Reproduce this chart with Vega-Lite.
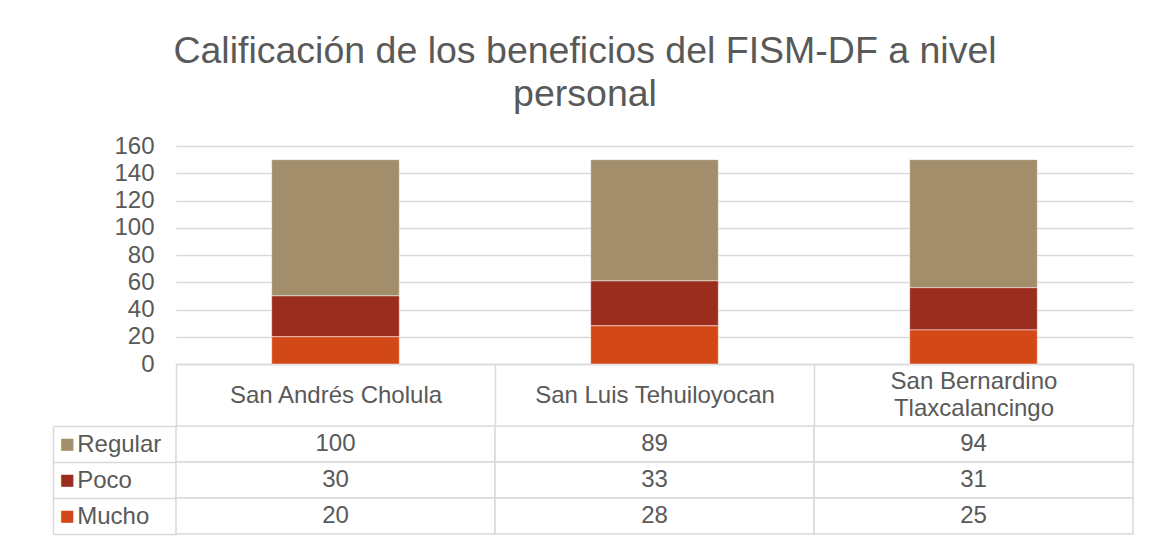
{
  "$schema": "https://vega.github.io/schema/vega-lite/v6.json",
  "padding": {"left": 52, "top": 33, "right": 10, "bottom": 5},
  "background": "white",
  "config": {"view": {"stroke": null}, "font": "Liberation Sans"},
  "title": {
    "text": ["Calificación de los beneficios del FISM-DF a nivel", "personal"],
    "fontSize": 37.5, "fontWeight": "normal", "color": "#595959", "lineHeight": 42.5,
    "anchor": "middle", "dx": -8, "offset": 21
  },
  "datasets": {
    "d": [
      {"municipio": "San Andrés Cholula", "calificacion": "Regular", "valor": 100},
      {"municipio": "San Andrés Cholula", "calificacion": "Poco", "valor": 30},
      {"municipio": "San Andrés Cholula", "calificacion": "Mucho", "valor": 20},
      {"municipio": "San Luis Tehuiloyocan", "calificacion": "Regular", "valor": 89},
      {"municipio": "San Luis Tehuiloyocan", "calificacion": "Poco", "valor": 33},
      {"municipio": "San Luis Tehuiloyocan", "calificacion": "Mucho", "valor": 28},
      {"municipio": "San Bernardino Tlaxcalancingo", "calificacion": "Regular", "valor": 94},
      {"municipio": "San Bernardino Tlaxcalancingo", "calificacion": "Poco", "valor": 31},
      {"municipio": "San Bernardino Tlaxcalancingo", "calificacion": "Mucho", "valor": 25}
    ]
  },
  "bounds": "flush",
  "spacing": 62,
  "vconcat": [
    {
      "width": 957,
      "height": 218,
      "data": {"name": "d"},
      "mark": {"type": "bar", "width": {"band": 0.4}, "stroke": "white", "strokeWidth": 0.8, "strokeOpacity": 0.6},
      "encoding": {
        "x": {
          "field": "municipio", "type": "nominal",
          "sort": ["San Andrés Cholula", "San Luis Tehuiloyocan", "San Bernardino Tlaxcalancingo"],
          "scale": {"paddingInner": 0, "paddingOuter": 0},
          "title": null,
          "axis": {
            "orient": "bottom", "labelAngle": 0, "tickBand": "extent", "tickSize": 62,
            "tickColor": "#d9d9d9", "tickWidth": 1.5, "domainColor": "#d9d9d9", "domainWidth": 1.5,
            "labelFontSize": 24, "labelColor": "#595959",
            "labelPadding": {"condition": {"test": "datum.value == 'San Bernardino Tlaxcalancingo'", "value": -44.3}, "value": -31},
            "labelBaseline": "middle",
            "labelLimit": 400, "labelOverlap": false, "labelLineHeight": 26.5,
            "labelExpr": "datum.value == 'San Bernardino Tlaxcalancingo' ? ['San Bernardino', 'Tlaxcalancingo'] : datum.label"
          }
        },
        "y": {
          "field": "valor", "type": "quantitative", "stack": "zero",
          "scale": {"domain": [0, 160]},
          "title": null,
          "axis": {
            "values": [0, 20, 40, 60, 80, 100, 120, 140, 160],
            "ticks": false, "tickSize": 0, "domain": false, "labelPadding": 22,
            "labelFontSize": 24, "labelColor": "#595959",
            "gridColor": "#d9d9d9", "gridWidth": 1.5, "minExtent": 123, "maxExtent": 123
          }
        },
        "color": {
          "field": "calificacion", "type": "nominal",
          "scale": {"domain": ["Mucho", "Poco", "Regular"], "range": ["#D34817", "#9B2D1F", "#A28E6A"]},
          "legend": null
        },
        "order": {"field": "calificacion", "sort": "ascending"}
      }
    },
    {
      "width": 957,
      "height": 108,
      "data": {"name": "d"},
      "encoding": {
        "x": {
          "field": "municipio", "type": "nominal",
          "sort": ["San Andrés Cholula", "San Luis Tehuiloyocan", "San Bernardino Tlaxcalancingo"],
          "scale": {"paddingInner": 0, "paddingOuter": 0},
          "axis": null
        }
      },
      "resolve": {"axis": {"y": "independent"}},
      "layer": [
        {
          "mark": {"type": "rect", "fill": "white", "stroke": "#d9d9d9", "strokeWidth": 1.5},
          "encoding": {
            "y": {
              "field": "calificacion", "type": "nominal",
              "sort": ["Regular", "Poco", "Mucho"],
              "scale": {"paddingInner": 0, "paddingOuter": 0},
              "title": null,
              "axis": {
                "orient": "left", "offset": 123, "ticks": false, "tickSize": 0, "grid": false,
                "domain": true, "domainColor": "#d9d9d9", "domainWidth": 1.5,
                "labelExpr": "'■'", "labelAlign": "center", "labelBaseline": "middle",
                "labelPadding": -13.5, "labelFontSize": 25, "labelOverlap": false,
                "labelColor": {
                  "condition": [
                    {"test": "datum.value == 'Regular'", "value": "#A28E6A"},
                    {"test": "datum.value == 'Poco'", "value": "#9B2D1F"}
                  ],
                  "value": "#D34817"
                }
              }
            }
          }
        },
        {
          "mark": {"type": "text", "fontSize": 24, "color": "#595959"},
          "encoding": {
            "y": {
              "field": "calificacion", "type": "nominal",
              "sort": ["Regular", "Poco", "Mucho"],
              "title": null,
              "axis": {
                "orient": "left", "tickBand": "extent", "tickSize": 123,
                "tickColor": "#d9d9d9", "tickWidth": 1.5, "grid": false,
                "domain": true, "domainColor": "#d9d9d9", "domainWidth": 1.5,
                "labelAlign": "left", "labelBaseline": "middle", "labelPadding": -23.7,
                "labelFontSize": 24, "labelColor": "#595959", "labelOverlap": false
              }
            },
            "text": {"field": "valor", "type": "quantitative"}
          }
        }
      ]
    }
  ]
}
